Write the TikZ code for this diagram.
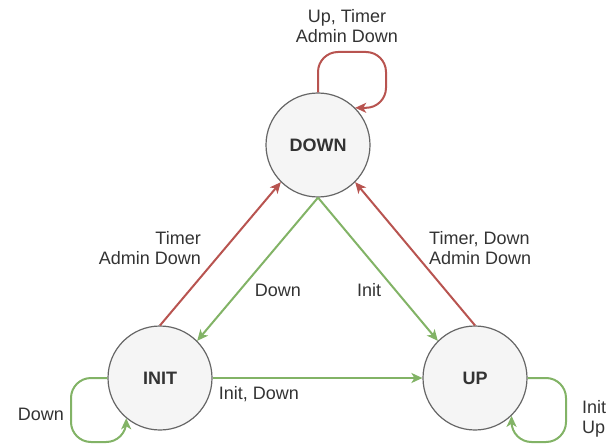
\documentclass[tikz,border=0pt]{standalone}
\usepackage{fontspec}
\setmainfont{Liberation Sans}
\usetikzlibrary{arrows.meta}
\definecolor{redline}{HTML}{B85450}
\definecolor{greenline}{HTML}{82B366}
\definecolor{statefill}{HTML}{F5F5F5}
\definecolor{stateline}{HTML}{666666}
\definecolor{txt}{HTML}{333333}

\tikzset{
  state/.style={draw=stateline, circle, fill=statefill, line width=1.2pt, minimum size=104pt, inner sep=0pt, text=txt, font=\fontsize{18}{20}\selectfont\bfseries},
  lbl/.style={text=txt, font=\fontsize{18}{20}\selectfont, inner sep=0pt},
  redarrow/.style={draw=redline, line width=2pt, -{Stealth[length=11pt,width=10pt,inset=3pt]}},
  greenarrow/.style={draw=greenline, line width=2pt, -{Stealth[length=11pt,width=10pt,inset=3pt]}}
}

\begin{document}
\begin{tikzpicture}[x=1pt, y=1pt]
\useasboundingbox (0,0) rectangle (615,445);

\node[state] at (318,300) (down) {DOWN};
\node[state] at (160,67) (init) {INIT};
\node[state] at (475,67) (up) {UP};

% self loops
\draw[redarrow, rounded corners=20pt] (down.north) |- (386,393) |- (down.45);
\draw[greenarrow, rounded corners=20pt] (init.west) -| (71,3) -| (init.230);
\draw[greenarrow, rounded corners=20pt] (up.east) -| (566,3) -| (up.-46);

% transitions
\draw[redarrow] (init.north) -- (down.225);
\draw[redarrow] (up.north) -- (down.-45);
\draw[greenarrow] (down.south) -- (init.45);
\draw[greenarrow] (down.south) -- (up.135);
\draw[greenarrow] (init.east) -- (up.west);

% labels
\node[lbl, align=center] at (347,419) (ldown) {Up, Timer\\Admin Down};
\node[lbl, align=right, anchor=east] at (201,197) (linitdown) {Timer\\Admin Down};
\node[lbl, align=left, anchor=west] at (429,197) (lupdown) {Timer, Down\\Admin Down};
\node[lbl] at (278,155) (ldowninit) {Down};
\node[lbl] at (369,155) (ldownup) {Init};
\node[lbl] at (259,51) (linitup) {Init, Down};
\node[lbl] at (41,31) (linit) {Down};
\node[lbl, align=left, anchor=west] at (582,26) (lup) {Init\\Up};

\end{tikzpicture}
\end{document}
